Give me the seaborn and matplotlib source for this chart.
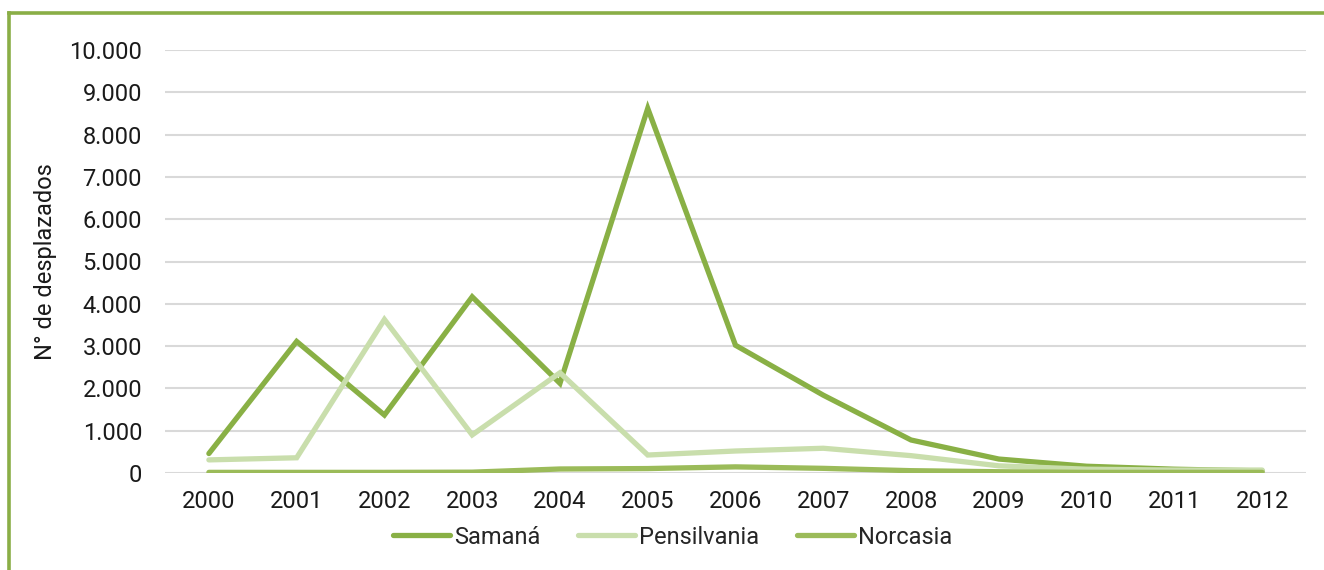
import matplotlib
matplotlib.use("Agg")
import matplotlib.pyplot as plt
from matplotlib.lines import Line2D
from matplotlib.ticker import FuncFormatter
import seaborn as sns
import pandas as pd

# Personas desplazadas por municipio y año
years = ["2000", "2001", "2002", "2003", "2004", "2005", "2006",
         "2007", "2008", "2009", "2010", "2011", "2012"]
samana = [460, 3110, 1370, 4165, 2120, 8620, 3020, 1840, 780, 330, 160, 90, 50]
pensilvania = [310, 360, 3630, 900, 2370, 425, 520, 585, 410, 170, 90, 70, 70]
norcasia = [15, 15, 15, 20, 95, 105, 145, 110, 55, 30, 15, 15, 15]

series = {"Samaná": samana, "Pensilvania": pensilvania, "Norcasia": norcasia}
colors = {"Samaná": "#89B045", "Pensilvania": "#C9DEAC", "Norcasia": "#9BBB59"}
border_color = "#8AAE46"
fs = 17

rows = []
for name, vals in series.items():
    for i, v in enumerate(vals):
        rows.append({"idx": i, "year": years[i], "municipio": name, "valor": v})
df = pd.DataFrame(rows)

sns.set_theme(style="white")
plt.rcParams["font.family"] = ["Roboto", "DejaVu Sans"]

fig = plt.figure(figsize=(13.24, 5.70), dpi=100)
ax = fig.add_axes([165 / 1324, 1 - 473 / 570, (1306 - 165) / 1324, (473 - 50) / 570])

sns.lineplot(data=df, x="idx", y="valor", hue="municipio", palette=colors,
             linewidth=3.8, ax=ax, legend=False, sort=False)
for ln in ax.lines:
    ln.set_solid_capstyle("round")
    ln.set_solid_joinstyle("miter")

ax.set_xlim(-0.5, len(years) - 0.5)
ax.set_ylim(0, 10000)
ax.set_yticks(range(0, 10001, 1000))
ax.yaxis.set_major_formatter(FuncFormatter(lambda v, p: f"{int(v):,}".replace(",", ".")))
ax.set_xticks(range(len(years)))
ax.set_xticklabels(years)
ax.grid(axis="y", color="#D9D9D9", linewidth=1.5, zorder=0)
ax.set_axisbelow(True)
for s in ax.spines.values():
    s.set_visible(False)
ax.tick_params(axis="both", length=0, labelsize=fs, colors="#1a1a1a")
ax.tick_params(axis="y", pad=16.5)
ax.tick_params(axis="x", pad=12)
ax.set_xlabel("")
ax.set_ylabel("N° de desplazados", fontsize=fs, color="#1a1a1a")
ax.yaxis.set_label_coords(-0.095, 0.5)

handles = [Line2D([0], [0], color=colors[n], linewidth=3.8, solid_capstyle="round")
           for n in series]
fig.legend(handles, list(series), loc="center", bbox_to_anchor=(0.508, 1 - 537 / 570),
           ncol=3, frameon=False, fontsize=fs, handlelength=2.4, handletextpad=0.17,
           columnspacing=1.6)

# green frame along the top and left edges
fig.add_artist(Line2D([9 / 1324, 9 / 1324], [0, 1 - 13 / 570], color=border_color,
                      linewidth=2.6, transform=fig.transFigure, solid_capstyle="projecting"))
fig.add_artist(Line2D([9 / 1324, 1], [1 - 13 / 570, 1 - 13 / 570], color=border_color,
                      linewidth=2.6, transform=fig.transFigure, solid_capstyle="projecting"))

fig.savefig("out.png", dpi=100, facecolor="white")
